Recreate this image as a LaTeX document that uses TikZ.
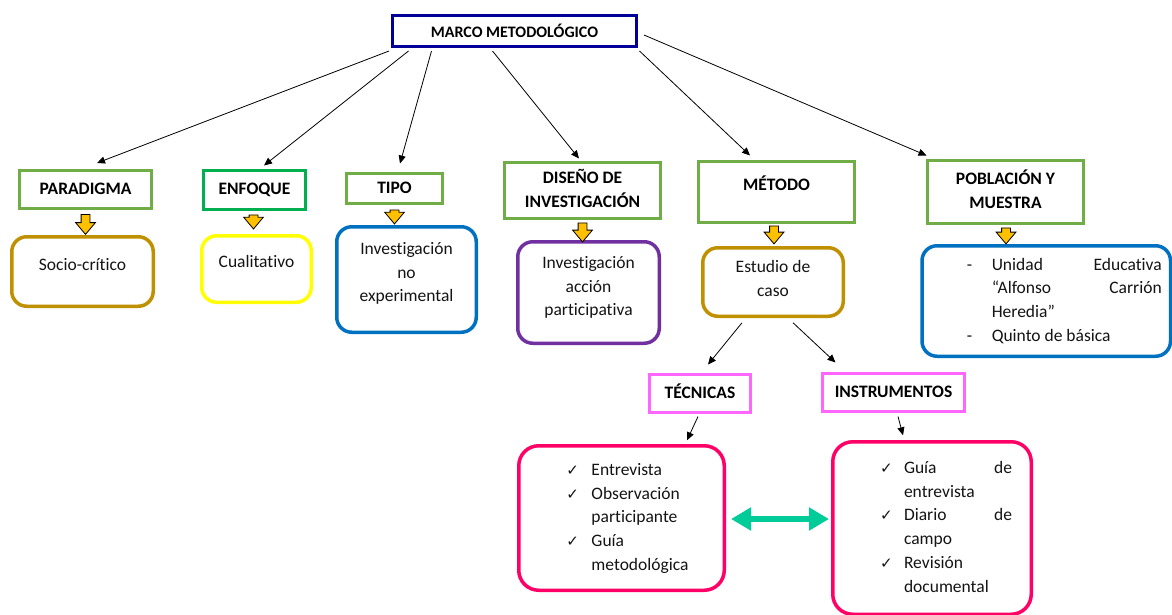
\documentclass[tikz,border=0pt]{standalone}
\usepackage{fontspec}
\setmainfont{Carlito}[RawFeature={-liga}]
\newfontfamily\dejavu{DejaVu Sans}
\usetikzlibrary{arrows.meta,shapes.arrows,calc}
\definecolor{navyc}{RGB}{0,0,153}
\definecolor{hgreen}{RGB}{112,173,71}
\definecolor{egreen}{RGB}{0,176,80}
\definecolor{goldc}{RGB}{191,144,0}
\definecolor{yelc}{RGB}{255,255,0}
\definecolor{bluec}{RGB}{0,112,192}
\definecolor{purc}{RGB}{112,48,160}
\definecolor{pinkh}{RGB}{255,102,255}
\definecolor{pinkb}{RGB}{255,0,102}
\definecolor{tealc}{RGB}{0,204,153}
\definecolor{orc}{RGB}{255,192,0}
\definecolor{txtc}{RGB}{20,20,20}
\newcommand{\T}[1]{\begin{tabular}[t]{@{}c@{}}#1\end{tabular}}
\newcommand{\chk}{{\dejavu\fontsize{15}{15}\selectfont ✓}}
\newcommand{\ck}{\makebox[25pt][l]{\chk}}
\newcommand{\dd}{\makebox[25pt][l]{-}}
\begin{document}
\begin{tikzpicture}[x=1pt,y=-1pt,
  hdr/.style={draw=hgreen, line width=3pt, fill=white, inner sep=0pt, text=black,
    font=\bfseries\fontsize{17.5}{23.7}\selectfont, align=center},
  rbox/.style={draw, line width=3.5pt, rounded corners=15pt, fill=white, inner sep=0pt, text=txtc,
    font=\fontsize{17.5}{23.7}\selectfont},
  conn/.style={-{Triangle[length=8pt,width=7pt]}, line width=0.8pt},
  oarr/.style={single arrow, draw=black, line width=0.8pt, fill=orc, inner sep=4pt,
    single arrow head extend=5.5pt, single arrow tip angle=80, rotate=-90, anchor=tail,
    minimum height=#1},
  dbl/.style={{Triangle[length=20pt,width=22pt]}-{Triangle[length=20pt,width=22pt]}, line width=6.5pt, draw=tealc}
]
\useasboundingbox[fill=white] (0,0) rectangle (1172,614);

% headers
\node[hdr, draw=navyc, minimum width=244, minimum height=31, font=\bfseries\fontsize{16}{20}\selectfont] (marco) at (514.5,31) {MARCO METODOLÓGICO};
\node[hdr, minimum width=132, minimum height=38] (para) at (85.5,189.5) {\T{PARADIGMA}};
\node[hdr, draw=egreen, minimum width=102, minimum height=39] (enf) at (254.5,190) {\T{ENFOQUE}};
\node[hdr, minimum width=96, minimum height=30] (tipo) at (394.5,188.5) {\T{TIPO}};
\node[hdr, minimum width=156, minimum height=56] (dis) at (582.5,190.5) {\T{DISEÑO DE\\INVESTIGACIÓN}};
\node[hdr, minimum width=156, minimum height=61, text depth=19pt] (met) at (776.5,192) {\T{MÉTODO}};
\node[hdr, minimum width=156, minimum height=63] (pob) at (1005.5,192) {\T{POBLACIÓN Y\\MUESTRA}};
\node[hdr, draw=pinkh, minimum width=101, minimum height=38] (tec) at (700,393.5) {\T{TÉCNICAS}};
\node[hdr, draw=pinkh, minimum width=142, minimum height=38] (ins) at (893.5,392.5) {\T{INSTRUMENTOS}};

% content boxes
\node[rbox, draw=goldc, minimum width=141.5, minimum height=69.5, text depth=18pt] (socio) at (82.5,271.5) {\T{Socio-crítico}};
\node[rbox, draw=yelc, minimum width=109.5, minimum height=66.5, text depth=19pt] (cual) at (256.5,269) {\T{Cualitativo}};
\node[rbox, draw=bluec, minimum width=139.5, minimum height=105.5, text depth=66.5pt] (tipoB) at (406.5,279.5) {\T{Investigación\\no\\experimental}};
\node[rbox, draw=purc, minimum width=141.5, minimum height=101.5, text depth=64.5pt] (disB) at (588.5,292.5) {\T{Investigación\\acción\\participativa}};
\node[rbox, draw=goldc, minimum width=140.5, minimum height=68.5, text depth=34.8pt] (estB) at (773,282) {\T{Estudio de\\caso}};
\node[rbox, draw=bluec, minimum width=248.5, minimum height=110.5] (pobB) at (1046.25,301) {\hspace*{36pt}\begin{tabular}{@{}l@{}}
  \dd\makebox[170pt][s]{Unidad\hfill Educativa}\\
  \hspace*{25pt}\makebox[170pt][s]{“Alfonso\hfill Carrión}\\
  \hspace*{25pt}Heredia”\\
  \dd Quinto de básica\end{tabular}};
\node[rbox, draw=pinkb, rounded corners=20pt, minimum width=205.5, minimum height=144.5] (tecB) at (621.5,518) {\hspace*{12pt}\begin{tabular}{@{}l@{}}
  \ck Entrevista\\
  \ck Observación\\
  \hspace*{25pt}participante\\
  \ck Guía\\
  \hspace*{25pt}metodológica\end{tabular}};
\node[rbox, draw=pinkb, rounded corners=20pt, minimum width=198.5, minimum height=172.5] (insB) at (932,528) {\hspace*{28pt}\begin{tabular}{@{}l@{}}
  \makebox[24pt][l]{\chk}\makebox[108pt][s]{Guía\hfill de}\\
  \hspace*{24pt}entrevista\\
  \makebox[24pt][l]{\chk}\makebox[108pt][s]{Diario\hfill de}\\
  \hspace*{24pt}campo\\
  \makebox[24pt][l]{\chk}Revisión\\
  \hspace*{24pt}documental\end{tabular}};

% orange block arrows
\node[oarr=20pt] (a1) at ($(para.south)+(0,4)$) {};
\node[oarr=14pt] (a2) at ($(enf.south)+(-1,3.5)$) {};
\node[oarr=14pt] (a3) at ($(tipo.south)+(0,4.5)$) {};
\node[oarr=19pt] (a4) at ($(dis.south)+(0,2.5)$) {};
\node[oarr=18pt] (a5) at ($(met.south)+(-2.5,1.5)$) {};
\node[oarr=16pt] (a6) at ($(pob.south)+(0.5,2.5)$) {};

% connectors
\draw[conn] ($(marco.south west)+(-2,3)$) -- ($(para.north)+(11.5,-6)$);
\draw[conn] ($(marco.south west)+(17.5,3)$) -- ($(enf.north)+(9.5,-3.5)$);
\draw[conn] ($(marco.south west)+(40.5,3)$) -- ($(tipo.north)+(5.5,-8.5)$);
\draw[conn] ($(marco.south west)+(101.5,3)$) -- ($(dis.north)+(-3.5,-2.5)$);
\draw[conn] ($(marco.south east)+(1.5,3)$) -- ($(met.north)+(-26.5,-4.5)$);
\draw[conn] ($(marco.east)+(6,4)$) -- ($(pob.north west)+(0.5,-3.5)$);
\draw[conn] ($(estB.south)+(-31,4.75)$) -- ($(tec.north)+(8,-8.5)$);
\draw[conn] ($(estB.south)+(20,4.75)$) -- ($(ins.north west)+(14.5,-9.5)$);
\draw[conn] ($(tec.south)+(-2,2.5)$) -- ($(tecB.north)+(65.5,-3.75)$);
\draw[conn] ($(ins.south)+(4.5,3.5)$) -- ($(insB.north)+(-29,-4.75)$);

% double arrow
\coordinate (d1) at ($(tecB.east)+(5,1)$);
\draw[dbl, shorten >=2pt] (d1) -- (insB.west |- d1);
\end{tikzpicture}
\end{document}
